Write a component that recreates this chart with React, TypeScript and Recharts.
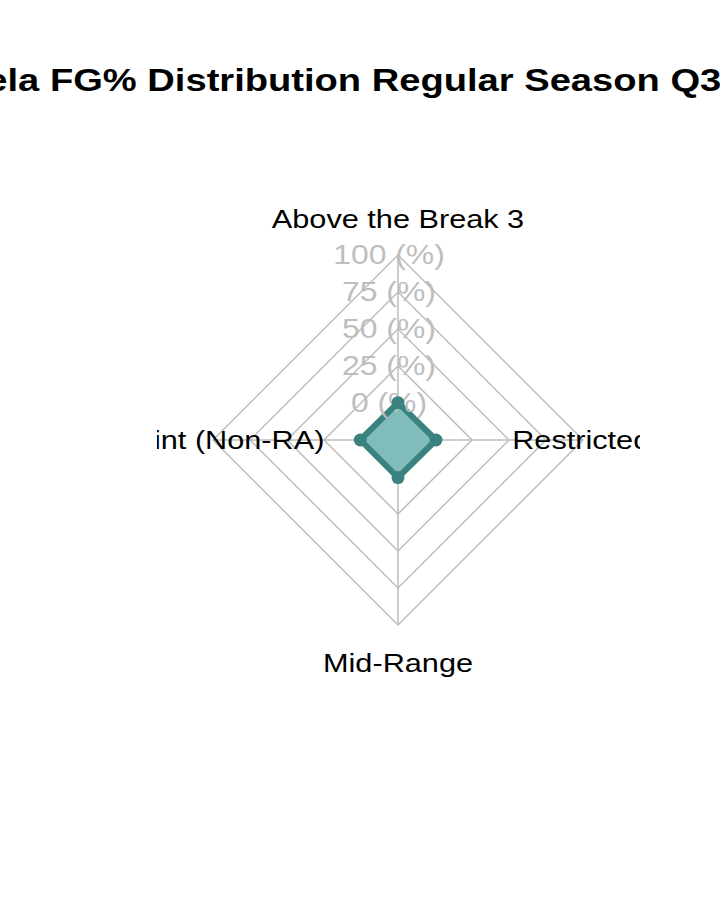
import React from 'react';
import { RadarChart, Radar, PolarGrid, PolarAngleAxis, PolarRadiusAxis } from 'recharts';

const zones = ['Above the Break 3', 'Restricted Area', 'Mid-Range', 'In The Paint (Non-RA)'];
const fgPct = [0.2, 0.68, 0.42, 0.5];
const gridTicks = [0, 25, 50, 75, 100];

const TITLE = 'Clint Capela FG% Distribution Regular Season Q3';
const TITLE_PREFIX = 'Clint Capela ';

const FONT = '"Liberation Sans", Arial, sans-serif';
const CX = 241;
const CY = 340;

const data = zones.map((zone, i) => ({ zone, value: fgPct[i] }));

// width of the part of the title that falls off the left edge
const measure = (text: string, font: string) => {
  const ctx = document.createElement('canvas').getContext('2d');
  if (!ctx) return text.length * 17;
  ctx.font = font;
  return ctx.measureText(text).width;
};

const AngleTick = (props: any) => {
  const { payload } = props;
  const a = (-payload.coordinate * Math.PI) / 180;
  const r = 222;
  const x = CX + Math.cos(a) * r;
  const y = CY + Math.sin(a) * r;
  const vertical = Math.abs(Math.sin(a)) > 0.5;
  return (
    <text
      transform={`translate(${x + (vertical ? 0 : -3)},${y + (vertical ? 10 : 9)}) scale(1.18,1)`}
      textAnchor="middle"
      fontSize={26}
      fontFamily={FONT}
      fill="#000"
    >
      {payload.value}
    </text>
  );
};

const RadiusTick = (props: any) => {
  const { x, y, payload } = props;
  return (
    <text
      transform={`translate(${x - 9},${y + 9}) scale(1.14,1)`}
      textAnchor="middle"
      fontSize={28}
      fontFamily={FONT}
      fill="#bebebe"
    >
      {`${payload.value} (%)`}
    </text>
  );
};

export default function App() {
  const scaleX = 1.23;
  const prefixW = measure(TITLE_PREFIX, `bold 31px ${FONT}`) * scaleX;

  return (
    <div style={{ position: 'absolute', left: 0, top: 0, width: 720, height: 921, background: '#fff', overflow: 'hidden' }}>
      <svg width={720} height={130} style={{ position: 'absolute', left: 0, top: 0 }}>
        <text
          transform={`translate(${50 - prefixW},91) scale(${scaleX},1)`}
          fontSize={31}
          fontWeight="bold"
          fontFamily={FONT}
          fill="#000"
        >
          {TITLE}
        </text>
      </svg>
      <div style={{ position: 'absolute', left: 157, top: 100, width: 483, height: 700, overflow: 'hidden' }}>
        <RadarChart
          width={483}
          height={700}
          data={data}
          cx={CX}
          cy={CY}
          outerRadius={185}
          margin={{ top: 0, right: 0, bottom: 0, left: 0 }}
        >
          <PolarGrid gridType="polygon" stroke="#bdbdbd" strokeWidth={1.5} />
          <PolarAngleAxis dataKey="zone" axisLine={false} tickLine={false} tick={<AngleTick />} />
          <PolarRadiusAxis
            type="number"
            angle={90}
            domain={[-25, 100]}
            ticks={gridTicks}
            axisLine={false}
            tickLine={false}
            tick={<RadiusTick />}
          />
          <Radar
            dataKey="value"
            stroke="#3a827f"
            strokeWidth={6}
            strokeLinejoin="round"
            fill="#80bdba"
            fillOpacity={1}
            dot={{ r: 6.5, fill: '#3a827f', stroke: 'none' }}
            isAnimationActive={false}
          />
        </RadarChart>
      </div>
    </div>
  );
}
